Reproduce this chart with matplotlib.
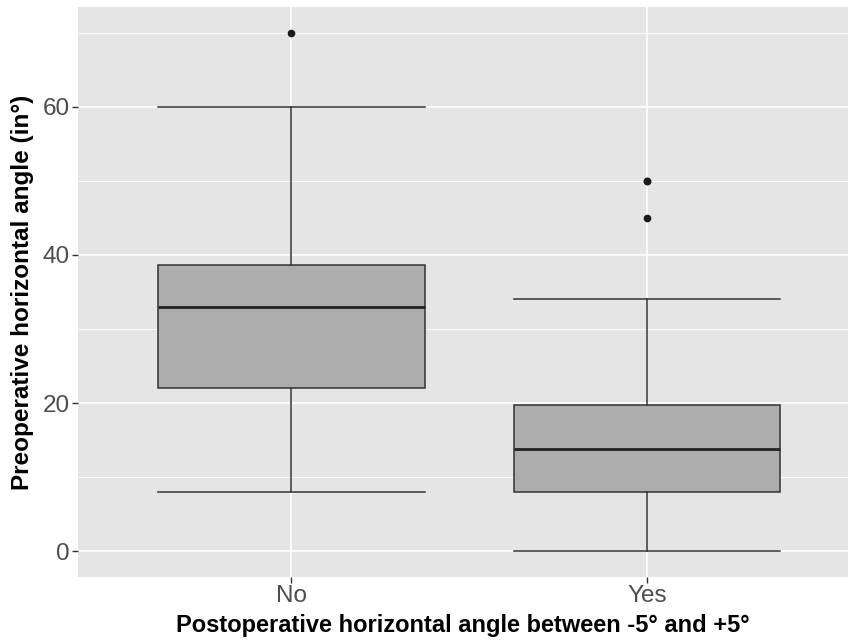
import matplotlib.pyplot as plt
import numpy as np

plt.rcParams['font.family'] = ['Liberation Sans', 'DejaVu Sans']

# Box statistics
groups = ["No", "Yes"]
q1 = [22.0, 8.0]
med = [33.0, 13.8]
q3 = [38.7, 19.7]
whislo = [8.0, 0.0]
whishi = [60.0, 34.0]
fliers = [[70.0], [45.0, 50.0, 50.0]]

stats = []
for i, g in enumerate(groups):
    stats.append(dict(label=g, q1=q1[i], med=med[i], q3=q3[i],
                      whislo=whislo[i], whishi=whishi[i], fliers=fliers[i]))

fig = plt.figure(figsize=(8.48, 6.42), dpi=100)
ax = fig.add_axes([78 / 848, 65 / 642, 1 - 78 / 848, 570 / 642])
ax.set_facecolor("#E5E5E5")
ax.set_axisbelow(True)

edge = "#333333"
ax.bxp(stats, positions=[1, 2], widths=0.75, capwidths=0.75,
       patch_artist=True, showfliers=True,
       boxprops=dict(facecolor="#ADADAD", edgecolor=edge, linewidth=1.1),
       whiskerprops=dict(color=edge, linewidth=1.1),
       capprops=dict(color=edge, linewidth=1.1),
       medianprops=dict(color="#222222", linewidth=2.0),
       flierprops=dict(marker="o", markersize=4.5, markerfacecolor="#1A1A1A",
                       markeredgecolor="#1A1A1A"))

ax.set_xlim(0.4, 2.565)
ax.set_ylim(-3.5, 73.5)
ax.set_yticks([0, 20, 40, 60])
ax.set_yticks([10, 30, 50, 70], minor=True)
ax.set_xticks([1, 2])
ax.set_xticklabels(groups)

ax.grid(which="major", color="white", linewidth=1.2)
ax.grid(which="minor", axis="y", color="white", linewidth=0.6)
ax.tick_params(which="major", length=4, width=1, color=edge,
               labelsize=17.5, labelcolor="#4D4D4D", pad=2)
ax.tick_params(which="minor", length=0)
for s in ax.spines.values():
    s.set_visible(False)

ax.set_xlabel("Postoperative horizontal angle between -5° and +5°",
              fontsize=17, fontweight="bold", labelpad=5)
ax.set_ylabel("Preoperative horizontal angle (in°)",
              fontsize=17.5, fontweight="bold", labelpad=6)

fig.savefig("out.png", dpi=100)
